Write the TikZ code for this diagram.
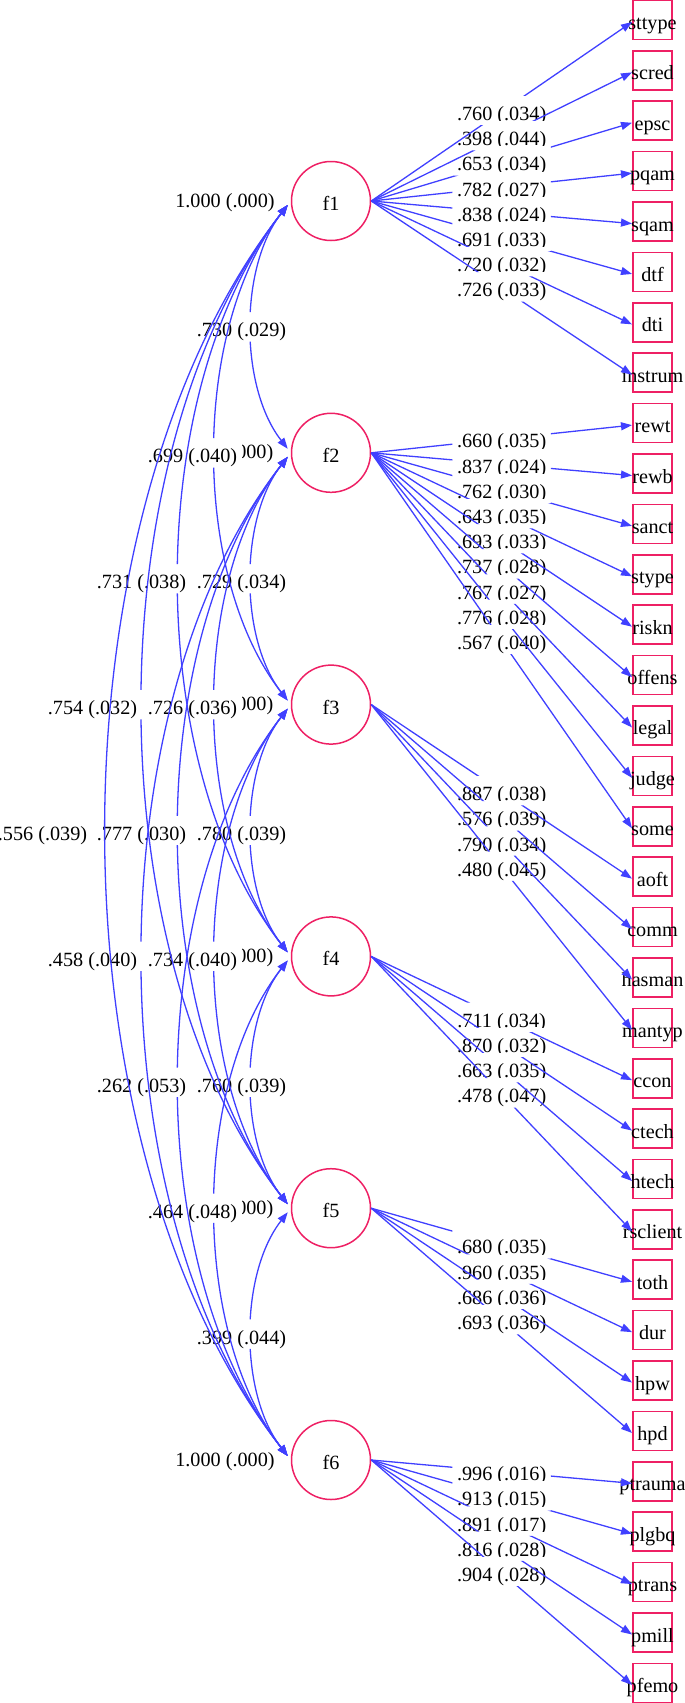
\documentclass[tikz,border=0pt]{standalone}
\usepackage{fontspec}
\setmainfont{Liberation Serif}
\usetikzlibrary{arrows.meta,calc}
\definecolor{nodecol}{RGB}{238,32,100}
\definecolor{edgecol}{RGB}{64,64,255}
\newcommand\labfont{\fontsize{20.2pt}{24pt}\selectfont}
\newcommand\holeclip[1]{\clip (-20,-20) -- (705,-20) -- (705,1723) -- (-20,1723) -- cycle
  (#1.north west) -- (#1.south west) -- (#1.south east) -- (#1.north east) -- cycle;}
\begin{document}
\begin{tikzpicture}[x=1pt,y=-1pt,
  lat/.style={circle,draw=nodecol,line width=1.5pt,minimum size=79pt,inner sep=0pt,font=\labfont,text height=19pt,text depth=0pt},
  obs/.style={rectangle,draw=nodecol,line width=1.6pt,minimum width=39.4pt,minimum height=39pt,inner sep=0pt,font=\labfont,text height=19pt,text depth=0pt},
  elab/.style={fill=white,inner sep=4.5pt,font=\labfont,text height=20pt,text depth=0pt},
  ld/.style={draw=edgecol,line width=1.3pt,-{Triangle[length=11pt,width=8pt]}},
  cv/.style={draw=edgecol,line width=1.3pt,{Triangle[length=11pt,width=8pt]}-{Triangle[length=11pt,width=8pt]}}]
\useasboundingbox (0,0) rectangle (685,1703);
% latent factors
\foreach \k in {1,...,6}{
  \node[lat] (f\k) at (331,{201+251.8*(\k-1)}) {f\k};
}
% indicators
\foreach \n [count=\i from 0] in {sttype,scred,epsc,pqam,sqam,dtf,dti,instrum,rewt,rewb,sanct,stype,riskn,offens,legal,judge,some,aoft,comm,hasman,mantyp,ccon,ctech,htech,rsclient,toth,dur,hpw,hpd,ptrauma,plgbq,ptrans,pmill,pfemo}{
  \node[obs] (\n) at (652.5,{20+50.39*\i}) {\makebox[0pt]{\n}};
}
% variance labels (only partly visible for f2--f5)
\node[elab] (v1) at (225,197) {1.000 (.000)};
\node[elab] (v6) at (225,{197+251.8*5}) {1.000 (.000)};
\foreach \k in {2,...,5}{
  \node[elab,anchor=east] (v\k) at (278,{197+251.8*(\k-1)}) {000)};
}
\def\covs{f1/f2/1/241.5/326.9/.730 (.029), f1/f3/2/192.5/452.8/.699 (.040), f1/f4/3/141.5/578.7/.731 (.038),
 f1/f5/4/92.5/704.6/.754 (.032), f1/f6/5/42.5/830.5/.556 (.039), f2/f3/1/241.5/578.7/.729 (.034),
 f2/f4/2/192.5/704.6/.726 (.036), f2/f5/3/141.5/830.5/.777 (.030), f2/f6/4/92.5/956.4/.458 (.040),
 f3/f4/1/241.5/830.5/.780 (.039), f3/f5/2/192.5/956.4/.734 (.040), f3/f6/3/141.5/1082.3/.262 (.053),
 f4/f5/1/241.5/1082.3/.760 (.039), f4/f6/2/192.5/1208.2/.464 (.048), f5/f6/1/241.5/1334.1/.399 (.044)}
\def\loads{f1/sttype/.760 (.034), f1/scred/.398 (.044), f1/epsc/.653 (.034), f1/pqam/.782 (.027),
 f1/sqam/.838 (.024), f1/dtf/.691 (.033), f1/dti/.720 (.032), f1/instrum/.726 (.033),
 f2/rewt/.660 (.035), f2/rewb/.837 (.024), f2/sanct/.762 (.030), f2/stype/.643 (.035),
 f2/riskn/.693 (.033), f2/offens/.737 (.028), f2/legal/.767 (.027), f2/judge/.776 (.028), f2/some/.567 (.040),
 f3/aoft/.887 (.038), f3/comm/.576 (.039), f3/hasman/.790 (.034), f3/mantyp/.480 (.045),
 f4/ccon/.711 (.034), f4/ctech/.870 (.032), f4/htech/.663 (.035), f4/rsclient/.478 (.047),
 f5/toth/.680 (.035), f5/dur/.960 (.035), f5/hpw/.686 (.036), f5/hpd/.693 (.036),
 f6/ptrauma/.996 (.016), f6/plgbq/.913 (.015), f6/ptrans/.891 (.017), f6/pmill/.816 (.028), f6/pfemo/.904 (.028)}
% covariance labels
\foreach \a/\b/\s/\x/\y/\t in \covs{
  \node[elab] (c-\a\b) at (\x,\y) {\t};
}
% loading labels
\foreach \f/\n/\t in \loads{
  \node[elab] (l-\n) at ($(\f.east)!0.5!(\n.west)$) {\t};
}
% covariance curves
\foreach \a/\b/\s/\x/\y/\t in \covs{
  \begin{scope}
    \holeclip{c-\a\b}
    \draw[cv] ([xshift=-3pt,yshift=-4pt]\a.west) .. controls +(-48.4*\s,62*\s) and +(-48.4*\s,-62*\s) .. ([xshift=-3pt,yshift=4pt]\b.west);
  \end{scope}
}
% loadings
\foreach \f/\n/\t in \loads{
  \begin{scope}
    \holeclip{l-\n}
    \draw[ld] (\f.east) -- ([yshift=-2pt]\n.west);
  \end{scope}
}
\end{tikzpicture}
\end{document}
